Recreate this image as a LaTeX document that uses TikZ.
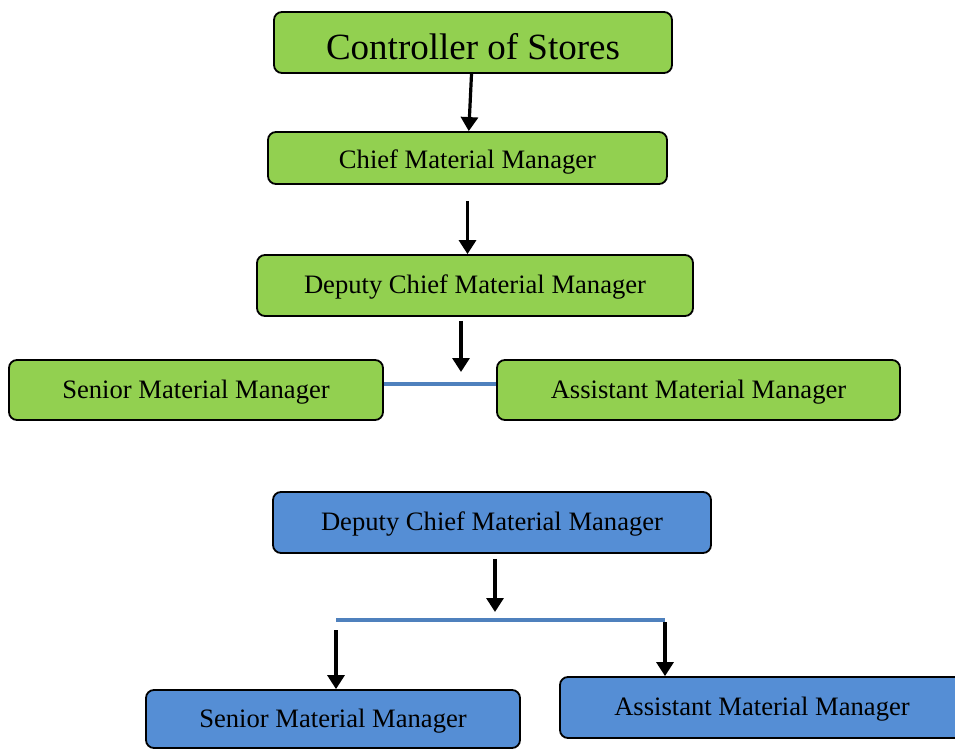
\documentclass[tikz,border=0pt]{standalone}
\usepackage{fontspec}
\setmainfont{Liberation Serif}
\usetikzlibrary{positioning,arrows.meta}
\definecolor{boxgreen}{HTML}{92D050}
\definecolor{boxblue}{HTML}{558ED5}
\definecolor{linkblue}{HTML}{4F81BD}

\begin{document}
\begin{tikzpicture}[x=1pt,y=-1pt,
	box/.style={draw=black,line width=1.8pt,rounded corners=8pt,inner sep=0pt,text height=16pt,text depth=0pt,font=\rmfamily\fontsize{26.6}{30}\selectfont},
	greenbox/.style={box,fill=boxgreen},
	bluebox/.style={box,fill=boxblue},
	arr/.style={line width=3.2pt,-{Triangle[width=17pt,length=14pt]}},
	link/.style={draw=linkblue,line width=3.2pt}]
			\useasboundingbox (0,0) rectangle (955,749);

			%green chart
			\node [greenbox,minimum width=398pt,minimum height=61pt,text height=35pt,font=\rmfamily\fontsize{37}{40}\selectfont] (g1) at (473,42.5) {Controller of Stores};
			\node [greenbox,minimum width=399pt,minimum height=52pt,text height=20pt] (g2) at (467.5,158) {Chief Material Manager};
			\node [greenbox,minimum width=436pt,minimum height=61pt] (g3) at (475,285.5) {Deputy Chief Material Manager};
			\node [greenbox,minimum width=374pt,minimum height=60pt] (g4) at (196,390) {Senior Material Manager};
			\node [greenbox,minimum width=403pt,minimum height=60pt] (g5) at (698.5,390) {Assistant Material Manager};
			\coordinate (j1) at (461,384);

			%blue chart
			\node [bluebox,minimum width=438pt,minimum height=61pt] (b1) at (492,522.5) {Deputy Chief Material Manager};
			\node [bluebox,minimum width=374pt,minimum height=58pt] (b2) at (333,719) {Senior Material Manager};
			\node [bluebox,minimum width=404pt,minimum height=61pt] (b3) at (762,707.5) {Assistant Material Manager};
			\coordinate (j2) at (495,620);
			\coordinate (j2l) at (336,620);
			\coordinate (j2r) at (665,620);

			%edges
			\draw [arr] (g1) -- (g2);
			\draw [arr,shorten <=16pt] (g2.south) -- (g2.south |- g3.north);
			\draw [arr,shorten <=4pt,shorten >=12pt] (g3.south -| j1) -- (j1);
			\draw [link] (g4.east |- j1) -- (g5.west |- j1);

			\draw [arr,shorten <=5pt,shorten >=8pt] (b1.south -| j2) -- (j2);
			\draw [link] (j2l) -- (j2r);
			\draw [arr,shorten <=10pt] (j2l) -- (j2l |- b2.north);
			\draw [arr,shorten <=2pt] (j2r) -- (j2r |- b3.north);
\end{tikzpicture}
\end{document}
